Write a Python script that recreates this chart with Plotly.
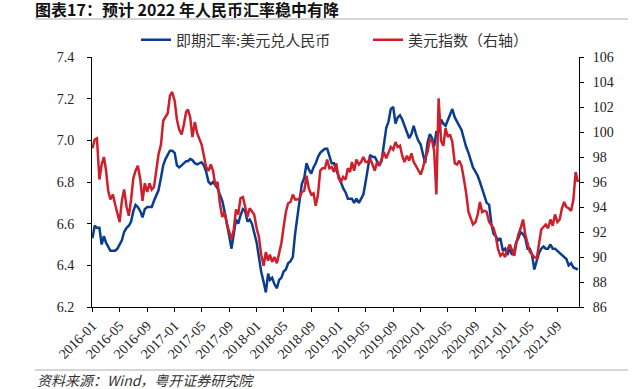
import plotly.graph_objects as go

# USD/CNY spot (left axis), three readings per month (1st, 11th, 21st)
cny_2016 = [6.53, 6.59, 6.58, 6.58, 6.50, 6.54, 6.51, 6.49, 6.47, 6.47, 6.47, 6.48,
            6.50, 6.52, 6.56, 6.58, 6.59, 6.61, 6.66, 6.69, 6.68, 6.66, 6.63, 6.67,
            6.68, 6.68, 6.68, 6.71, 6.74, 6.76, 6.82, 6.88, 6.91, 6.93, 6.95, 6.95]
cny_2017 = [6.94, 6.88, 6.87, 6.88, 6.89, 6.90, 6.90, 6.91, 6.905, 6.89, 6.885, 6.89,
            6.895, 6.88, 6.85, 6.80, 6.79, 6.80, 6.785, 6.77, 6.74, 6.71, 6.66, 6.61,
            6.54, 6.48, 6.55, 6.62, 6.60, 6.64, 6.67, 6.66, 6.61, 6.62, 6.60, 6.56]
cny_2018 = [6.51, 6.44, 6.37, 6.32, 6.27, 6.36, 6.33, 6.34, 6.31, 6.29, 6.33, 6.34,
            6.37, 6.38, 6.41, 6.42, 6.44, 6.55, 6.63, 6.70, 6.79, 6.82, 6.89, 6.86,
            6.84, 6.87, 6.89, 6.92, 6.94, 6.95, 6.96, 6.96, 6.93, 6.89, 6.89, 6.86]
cny_2019 = [6.83, 6.79, 6.77, 6.75, 6.72, 6.72, 6.72, 6.70, 6.72, 6.70, 6.72, 6.74,
            6.80, 6.87, 6.93, 6.92, 6.92, 6.90, 6.88, 6.90, 6.97, 7.06, 7.09, 7.15,
            7.16, 7.08, 7.11, 7.12, 7.10, 7.07, 7.03, 7.01, 7.03, 7.07, 7.03, 7.00]
cny_2020 = [6.98, 6.93, 6.89, 6.99, 7.03, 7.01, 6.97, 7.04, 7.04, 7.10, 7.08, 7.07,
            7.10, 7.12, 7.15, 7.11, 7.09, 7.07, 7.05, 7.01, 6.97, 6.94, 6.91, 6.87,
            6.85, 6.83, 6.80, 6.77, 6.73, 6.70, 6.69, 6.60, 6.55, 6.54, 6.52, 6.53]
cny_2021 = [6.47, 6.48, 6.45, 6.48, 6.45, 6.47, 6.51, 6.53, 6.56, 6.55, 6.53, 6.48,
            6.48, 6.45, 6.38, 6.42, 6.46, 6.48, 6.49, 6.48, 6.48, 6.50, 6.48, 6.48,
            6.47, 6.46, 6.45, 6.44, 6.43, 6.40, 6.41, 6.39, 6.385, 6.38]

# US dollar index (right axis)
dxy_2016 = [98.7, 99.4, 99.5, 96.2, 97.4, 98.0, 97.0, 95.3, 94.6, 95.0, 94.2, 93.4,
            92.8, 94.5, 95.4, 94.0, 93.3, 94.6, 96.3, 96.9, 97.3, 96.2, 94.5, 95.9,
            95.2, 95.9, 95.4, 95.6, 96.8, 98.2, 99.0, 100.9, 101.2, 101.5, 102.9, 103.2]
dxy_2017 = [102.5, 101.0, 100.2, 99.8, 100.6, 101.6, 101.8, 101.2, 99.6, 100.8, 99.9, 99.4,
            99.0, 98.1, 97.2, 96.9, 97.4, 96.9, 95.7, 96.0, 94.3, 93.2, 93.6, 92.7,
            92.0, 91.4, 92.2, 93.8, 93.4, 94.7, 94.8, 94.1, 93.2, 93.9, 93.6, 93.4]
dxy_2018 = [92.3, 91.6, 90.2, 89.3, 90.4, 89.7, 90.2, 89.6, 90.0, 89.5, 90.3, 91.1,
            92.4, 93.6, 94.3, 94.4, 95.0, 94.6, 94.6, 94.7, 95.2, 95.3, 96.5, 95.5,
            95.0, 95.1, 94.1, 95.0, 96.9, 97.1, 97.1, 97.8, 97.1, 97.2, 96.8, 97.5]
dxy_2019 = [96.3, 96.0, 96.4, 96.2, 97.1, 96.8, 97.6, 96.9, 97.8, 97.4, 97.6, 98.0,
            97.6, 97.6, 97.9, 97.4, 96.9, 97.6, 97.3, 97.8, 98.4, 97.9, 98.4, 98.8,
            98.6, 99.2, 98.8, 98.9, 98.1, 97.6, 98.1, 97.7, 98.3, 97.6, 97.3, 96.9]
dxy_2020 = [96.6, 97.1, 97.9, 98.4, 99.4, 99.3, 98.5, 95.0, 102.7, 99.3, 98.9, 100.3,
            99.6, 99.8, 99.2, 97.5, 97.4, 97.7, 97.3, 96.3, 95.2, 93.6, 93.1, 92.6,
            92.8, 93.4, 94.4, 93.6, 93.7, 93.6, 92.8, 92.5, 92.3, 91.6, 90.6, 90.1]
dxy_2021 = [90.3, 90.0, 90.6, 91.0, 90.6, 90.1, 91.0, 91.8, 92.3, 93.0, 91.8, 91.0,
            90.4, 90.2, 90.0, 89.9, 91.0, 92.2, 92.4, 92.6, 92.3, 93.0, 92.5, 93.4,
            92.8, 93.0, 93.9, 94.4, 94.0, 93.9, 93.7, 94.6, 96.8, 96.0]

usdcny = cny_2016 + cny_2017 + cny_2018 + cny_2019 + cny_2020 + cny_2021
dxy = dxy_2016 + dxy_2017 + dxy_2018 + dxy_2019 + dxy_2020 + dxy_2021

dates = []
for yr in range(2016, 2022):
    for mo in range(1, 13):
        for dd in (1, 11, 21):
            dates.append(f"{yr}-{mo:02d}-{dd:02d}")
dates = dates[:len(usdcny)]

tick_labels = ["2016-01", "2016-05", "2016-09", "2017-01", "2017-05", "2017-09",
               "2018-01", "2018-05", "2018-09", "2019-01", "2019-05", "2019-09",
               "2020-01", "2020-05", "2020-09", "2021-01", "2021-05", "2021-09"]
tick_vals = [t + "-01" for t in tick_labels]

name_cny = "即期汇率:美元兑人民币"
name_dxy = "美元指数（右轴）"
title_text = "图表17：预计 2022 年人民币汇率稳中有降"
source_text = "资料来源：Wind，粤开证券研究院"

BLUE = "#0a3d8f"
RED = "#cf1f2a"
CJK = "Noto Sans CJK SC"
SERIF = "Liberation Serif"

fig = go.Figure()
fig.add_trace(go.Scatter(x=dates, y=usdcny, name=name_cny, mode="lines",
                         line=dict(color=BLUE, width=2.5), yaxis="y", legend="legend"))
fig.add_trace(go.Scatter(x=dates, y=dxy, name=name_dxy, mode="lines",
                         line=dict(color=RED, width=2.5), yaxis="y2", legend="legend2"))

axis_common = dict(showline=True, linecolor="black", linewidth=1, ticks="outside",
                   ticklen=4, tickcolor="black", showgrid=False, zeroline=False,
                   automargin=False,
                   tickfont=dict(family=SERIF, size=14, color="#222"))

legend_common = dict(orientation="h", y=1 + (57 - 40) / 250, xanchor="left",
                     yanchor="middle", font=dict(family=CJK, size=15, color="#333"),
                     itemwidth=30, bgcolor="rgba(0,0,0,0)")

fig.update_layout(
    width=644, height=389,
    margin=dict(l=92, r=65, t=57, b=82, autoexpand=False),
    paper_bgcolor="white", plot_bgcolor="white",
    showlegend=True,
    legend=dict(x=(136 - 92) / 487, **legend_common),
    legend2=dict(x=(368 - 92) / 487, **legend_common),
    xaxis=dict(type="date", range=["2015-12-30", "2021-12-06"],
               tickmode="array", tickvals=tick_vals, ticktext=tick_labels,
               tickangle=-45, **axis_common),
    yaxis=dict(range=[6.2, 7.4], dtick=0.2, tick0=6.2, tickformat=".1f",
               ticklabelstandoff=10, **axis_common),
    yaxis2=dict(range=[86, 106], dtick=2, tick0=86, overlaying="y", side="right",
                ticklabelstandoff=6, **axis_common),
    title=dict(text="<b>" + title_text + "</b>", xref="container", yref="container",
               x=35 / 644, y=1 - 10 / 389, xanchor="left", yanchor="middle",
               font=dict(family=CJK, size=16, color="#111")),
)

fig.add_shape(type="line", xref="paper", yref="paper",
              x0=(35 - 92) / 487, x1=(628 - 92) / 487,
              y0=1 + (57 - 19) / 250, y1=1 + (57 - 19) / 250,
              line=dict(color="#c8c8c8", width=1.5))
fig.add_shape(type="line", xref="paper", yref="paper",
              x0=(35 - 92) / 487, x1=(628 - 92) / 487,
              y0=-(370 - 307) / 250, y1=-(370 - 307) / 250,
              line=dict(color="#c8c8c8", width=1.5))
fig.add_annotation(text="<i>" + source_text + "</i>", xref="paper", yref="paper",
                   x=(35 - 92) / 487, y=-(380 - 307) / 250, xanchor="left",
                   yanchor="middle", showarrow=False,
                   font=dict(family=CJK, size=14, color="#333"))

fig.write_html("out.html", config={"displayModeBar": False},
               post_script="document.body.style.margin='0px';"
                           "document.body.style.overflow='hidden';")
